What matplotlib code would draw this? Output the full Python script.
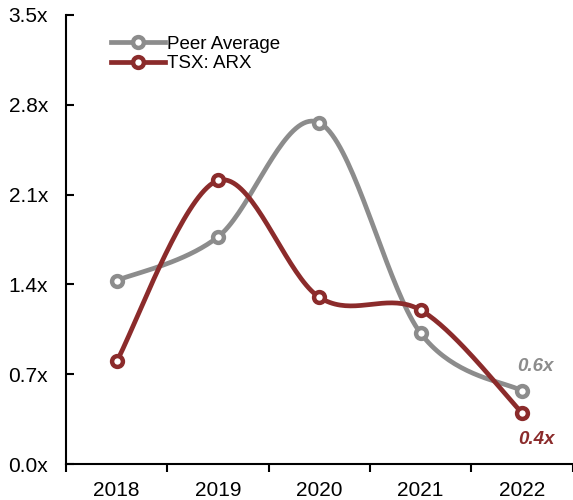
import numpy as np
import matplotlib.pyplot as plt

plt.rcParams['font.family'] = ['Liberation Sans', 'DejaVu Sans']

years = ['2018', '2019', '2020', '2021', '2022']
peer_avg = [1.43, 1.77, 2.66, 1.02, 0.57]
arx = [0.80, 2.21, 1.30, 1.20, 0.40]

GREY = '#8c8c8c'
RED = '#8b2b2b'


def smooth(y, n=40):
    # catmull-rom style smoothing through every point
    x = np.arange(len(y), dtype=float)
    pts = np.column_stack([x, y])
    P = np.vstack([pts[0], pts, pts[-1]])
    out = []
    for i in range(1, len(P) - 2):
        p0, p1, p2, p3 = P[i - 1], P[i], P[i + 1], P[i + 2]
        c1 = p1 + (p2 - p0) / 6
        c2 = p2 - (p3 - p1) / 6
        t = np.linspace(0, 1, n)[:, None]
        seg = (1 - t) ** 3 * p1 + 3 * (1 - t) ** 2 * t * c1 + 3 * (1 - t) * t ** 2 * c2 + t ** 3 * p2
        out.append(seg if i == 1 else seg[1:])
    out = np.vstack(out)
    return out[:, 0], out[:, 1]


fig = plt.figure(figsize=(5.73, 5.0), dpi=100, facecolor='white')
ax = fig.add_axes([0.1152, 0.072, 0.884, 0.898])

x = np.arange(len(years))
for vals, col, name in [(peer_avg, GREY, 'Peer Average'), (arx, RED, 'TSX: ARX')]:
    sx, sy = smooth(vals)
    ax.plot(sx, sy, color=col, lw=3.4, solid_capstyle='round', zorder=2)
    ax.plot(x, vals, 'o', ms=7.8, mfc='white', mec=col, mew=3.2, zorder=3)
    ax.plot([], [], '-o', color=col, lw=3.4, ms=7.8, mfc='white', mec=col, mew=3.2, label=name)

ax.text(x[-1] + 0.13, peer_avg[-1] + 0.19, f'{peer_avg[-1]:.1f}x', color=GREY,
        fontsize=13.5, fontweight='bold', fontstyle='italic', ha='center', va='center')
ax.text(x[-1] + 0.14, arx[-1] - 0.21, f'{arx[-1]:.1f}x', color=RED,
        fontsize=13.5, fontweight='bold', fontstyle='italic', ha='center', va='center')

ax.set_xlim(-0.5, 4.5)
ax.set_ylim(0, 3.5)
ax.set_yticks(np.arange(0, 3.51, 0.7))
ax.set_yticklabels([f'{v:.1f}x' for v in np.arange(0, 3.51, 0.7)])
ax.set_xticks(x)
ax.set_xticklabels(years)
ax.set_xticks(np.arange(-0.5, 4.6, 1), minor=True)
ax.tick_params(axis='x', which='major', length=0, labelsize=15, pad=12)
ax.tick_params(axis='x', which='minor', length=6, width=1.5, direction='out')
ax.tick_params(axis='y', length=6, width=1.5, direction='in', labelsize=15, pad=13)

for s in ['top', 'right']:
    ax.spines[s].set_visible(False)
for s in ['left', 'bottom']:
    ax.spines[s].set_linewidth(1.5)

ax.legend(loc='upper left', bbox_to_anchor=(0.07, 0.975), frameon=False, fontsize=13.5,
          handlelength=2.9, handletextpad=0.1, labelspacing=0.12, borderpad=0)

fig.savefig('out.png', dpi=100)
